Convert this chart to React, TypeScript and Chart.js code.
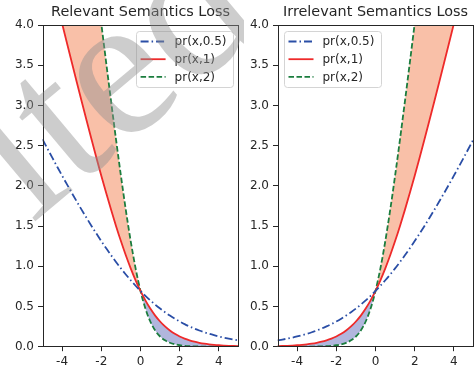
import React, { useEffect, useRef } from "react";
import { Chart, registerables } from "chart.js";
Chart.register(...registerables);

const X = [-5, -4.75, -4.5, -4.25, -4, -3.75, -3.5, -3.25, -3, -2.75, -2.5, -2.25, -2, -1.75, -1.5, -1.25, -1, -0.75, -0.5, -0.25, 0, 0.25, 0.5, 0.75, 1, 1.25, 1.5, 1.75, 2, 2.25, 2.5, 2.75, 3, 3.25, 3.5, 3.75, 4, 4.25, 4.5, 4.75, 5];

const L_PR05 = [2.5789, 2.4639, 2.3502, 2.2378, 2.1269, 2.0177, 1.9102, 1.8047, 1.7014, 1.6004, 1.5019, 1.4062, 1.3133, 1.2235, 1.1368, 1.0537, 0.9741, 0.8981, 0.8259, 0.7576, 0.6931, 0.6326, 0.5759, 0.5231, 0.4741, 0.4287, 0.3868, 0.3485, 0.3133, 0.2812, 0.2519, 0.2254, 0.2014, 0.1797, 0.1602, 0.1427, 0.1269, 0.1128, 0.1002, 0.0889, 0.0789];
const L_PR1 = [5.0067, 4.7586, 4.511, 4.2642, 4.0181, 3.7733, 3.5298, 3.2881, 3.0486, 2.8119, 2.5789, 2.3502, 2.1269, 1.9102, 1.7014, 1.5019, 1.3133, 1.1368, 0.9741, 0.8259, 0.6931, 0.5759, 0.4741, 0.3868, 0.3133, 0.2519, 0.2014, 0.1602, 0.1269, 0.1002, 0.0789, 0.0619, 0.0486, 0.0381, 0.0298, 0.0233, 0.0181, 0.0142, 0.011, 0.0086, 0.0067];
const L_PR2 = [10.0, 9.5001, 9.0001, 8.5002, 8.0003, 7.5006, 7.0009, 6.5015, 6.0025, 5.5041, 5.0067, 4.511, 4.0181, 3.5298, 3.0486, 2.5789, 2.1269, 1.7014, 1.3133, 0.9741, 0.6931, 0.4741, 0.3133, 0.2014, 0.1269, 0.0789, 0.0486, 0.0298, 0.0181, 0.011, 0.0067, 0.0041, 0.0025, 0.0015, 0.0009, 0.0006, 0.0003, 0.0002, 0.0001, 0.0001, 0.0];

const R_PR05 = [0.0789, 0.0889, 0.1002, 0.1128, 0.1269, 0.1427, 0.1602, 0.1797, 0.2014, 0.2254, 0.2519, 0.2812, 0.3133, 0.3485, 0.3868, 0.4287, 0.4741, 0.5231, 0.5759, 0.6326, 0.6931, 0.7576, 0.8259, 0.8981, 0.9741, 1.0537, 1.1368, 1.2235, 1.3133, 1.4062, 1.5019, 1.6004, 1.7014, 1.8047, 1.9102, 2.0177, 2.1269, 2.2378, 2.3502, 2.4639, 2.5789];
const R_PR1 = [0.0067, 0.0086, 0.011, 0.0142, 0.0181, 0.0233, 0.0298, 0.0381, 0.0486, 0.0619, 0.0789, 0.1002, 0.1269, 0.1602, 0.2014, 0.2519, 0.3133, 0.3868, 0.4741, 0.5759, 0.6931, 0.8259, 0.9741, 1.1368, 1.3133, 1.5019, 1.7014, 1.9102, 2.1269, 2.3502, 2.5789, 2.8119, 3.0486, 3.2881, 3.5298, 3.7733, 4.0181, 4.2642, 4.511, 4.7586, 5.0067];
const R_PR2 = [0.0, 0.0001, 0.0001, 0.0002, 0.0003, 0.0006, 0.0009, 0.0015, 0.0025, 0.0041, 0.0067, 0.011, 0.0181, 0.0298, 0.0486, 0.0789, 0.1269, 0.2014, 0.3133, 0.4741, 0.6931, 0.9741, 1.3133, 1.7014, 2.1269, 2.5789, 3.0486, 3.5298, 4.0181, 4.511, 5.0067, 5.5041, 6.0025, 6.5015, 7.0009, 7.5006, 8.0003, 8.5002, 9.0001, 9.5001, 10.0];

const LABELS = ["pr(x,0.5)", "pr(x,1)", "pr(x,2)"];
const TITLES = ["Relevant Semantics Loss", "Irrelevant Semantics Loss"];
const X_TICKS = [-4, -2, 0, 2, 4];
const WATERMARK = "ited";

const FONT = "'DejaVu Sans', sans-serif";
const BLUE = "#2a4ea6";
const RED = "#ee2a2a";
const GREEN = "#1b7d3e";
const FILL_UP = "#f9c0a8";
const FILL_DOWN = "#b1b6dd";
const INK = "#262626";

type Panel = {
  title: string;
  series: number[][];
  legendSide: "right" | "left";
  yWidth: number;
  padRight: number;
  watermark: boolean;
};

const toPts = (arr: number[]) => X.map((x, i) => ({ x, y: arr[i] }));

const decorPlugin = {
  id: "decor",
  afterDraw(chart: any, _args: any, opts: any) {
    const { ctx, chartArea: a } = chart;
    ctx.save();
    // spines
    ctx.strokeStyle = INK;
    ctx.lineWidth = 1;
    ctx.strokeRect(Math.round(a.left) + 0.5, Math.round(a.top) + 0.5, Math.round(a.right - a.left) - 1, Math.round(a.bottom - a.top) - 1);
    // title
    ctx.fillStyle = INK;
    ctx.font = `14.4px ${FONT}`;
    ctx.textAlign = "center";
    ctx.textBaseline = "middle";
    ctx.fillText(opts.title, (a.left + a.right) / 2, 12);
    // legend
    ctx.font = `12px ${FONT}`;
    const ds = chart.data.datasets;
    let tw = 0;
    ds.forEach((d: any) => (tw = Math.max(tw, ctx.measureText(d.label).width)));
    const bw = 5 + 25 + 9 + tw + 6;
    const bh = 56;
    const bx = opts.legendSide === "right" ? a.right - 6 - bw : a.left + 6;
    const by = a.top + 5.5;
    ctx.beginPath();
    ctx.roundRect(Math.round(bx) + 0.5, Math.round(by) + 0.5, Math.round(bw), bh, 3);
    ctx.fillStyle = "rgba(255,255,255,0.8)";
    ctx.fill();
    ctx.strokeStyle = "#d4d4d4";
    ctx.lineWidth = 1;
    ctx.stroke();
    ds.forEach((d: any, i: number) => {
      const yy = by + 11 + i * 17.7;
      ctx.beginPath();
      ctx.setLineDash(d.borderDash || []);
      ctx.strokeStyle = d.borderColor;
      ctx.lineWidth = d.borderWidth;
      ctx.moveTo(bx + 5, yy);
      ctx.lineTo(bx + 30, yy);
      ctx.stroke();
      ctx.setLineDash([]);
      ctx.fillStyle = INK;
      ctx.textAlign = "left";
      ctx.textBaseline = "middle";
      ctx.fillText(d.label, bx + 39, yy + 0.5);
    });
    // watermark
    if (opts.watermark) {
      ctx.save();
      ctx.translate(32, 224);
      ctx.rotate(-40 * Math.PI / 180);
      ctx.font = `205px 'Liberation Serif', serif`;
      ctx.fillStyle = "rgba(145,145,145,0.45)";
      ctx.textAlign = "left";
      ctx.textBaseline = "alphabetic";
      ctx.fillText(WATERMARK, 0, 0);
      ctx.restore();
    }
    ctx.restore();
  },
};

function makeConfig(p: Panel): any {
  const styles = [
    { color: BLUE, dash: [8, 3, 1.5, 3] },
    { color: RED, dash: [] },
    { color: GREEN, dash: [5.5, 2.5] },
  ];
  return {
    type: "line",
    data: {
      datasets: p.series.map((s, i) => ({
        label: LABELS[i],
        data: toPts(s),
        borderColor: styles[i].color,
        backgroundColor: styles[i].color,
        borderDash: styles[i].dash,
        borderWidth: 1.8,
        pointRadius: 0,
        cubicInterpolationMode: "monotone",
        fill: i === 2 ? { target: 1, above: FILL_UP, below: FILL_DOWN } : false,
      })),
    },
    options: {
      responsive: false,
      animation: false,
      events: [],
      layout: { padding: { top: 25, right: p.padRight, left: 0, bottom: 0 } },
      plugins: {
        legend: { display: false },
        title: { display: false },
        tooltip: { enabled: false },
        filler: { drawTime: "beforeDatasetsDraw" },
        decor: { title: p.title, legendSide: p.legendSide, watermark: p.watermark },
      },
      scales: {
        x: {
          type: "linear",
          min: -5,
          max: 5,
          afterBuildTicks: (s: any) => {
            s.ticks = X_TICKS.map((v) => ({ value: v }));
          },
          afterFit: (s: any) => {
            s.height = 22.3;
          },
          border: { display: false },
          grid: { display: true, drawOnChartArea: false, drawTicks: true, tickLength: 4.5, color: INK, lineWidth: 1 },
          ticks: { font: { family: FONT, size: 12 }, color: INK, padding: 3, maxRotation: 0, autoSkip: false },
        },
        y: {
          type: "linear",
          min: 0,
          max: 4,
          afterFit: (s: any) => {
            s.width = p.yWidth;
          },
          border: { display: false },
          grid: { display: true, drawOnChartArea: false, drawTicks: true, tickLength: 4.5, color: INK, lineWidth: 1 },
          ticks: {
            stepSize: 0.5,
            font: { family: FONT, size: 12 },
            color: INK,
            padding: 4,
            callback: (v: number) => v.toFixed(1),
          },
        },
      },
    },
    plugins: [decorPlugin],
  };
}

function PanelChart({ panel, left, width }: { panel: Panel; left: number; width: number }) {
  const ref = useRef<HTMLCanvasElement>(null);
  useEffect(() => {
    if (!ref.current) return;
    const chart = new Chart(ref.current, makeConfig(panel));
    return () => chart.destroy();
  }, []);
  return (
    <canvas
      ref={ref}
      width={width}
      height={369}
      style={{ position: "absolute", left, top: 0, width, height: 369 }}
    />
  );
}

export default function App() {
  const leftPanel: Panel = {
    title: TITLES[0],
    series: [L_PR05, L_PR1, L_PR2],
    legendSide: "right",
    yWidth: 42.5,
    padRight: 5.5,
    watermark: true,
  };
  const rightPanel: Panel = {
    title: TITLES[1],
    series: [R_PR05, R_PR1, R_PR2],
    legendSide: "left",
    yWidth: 33.5,
    padRight: 0.5,
    watermark: false,
  };
  return (
    <div style={{ position: "fixed", left: 0, top: 0, width: 474, height: 369, background: "#fff", overflow: "hidden" }}>
      <PanelChart panel={rightPanel} left={244} width={230} />
      <PanelChart panel={leftPanel} left={0} width={244} />
    </div>
  );
}
